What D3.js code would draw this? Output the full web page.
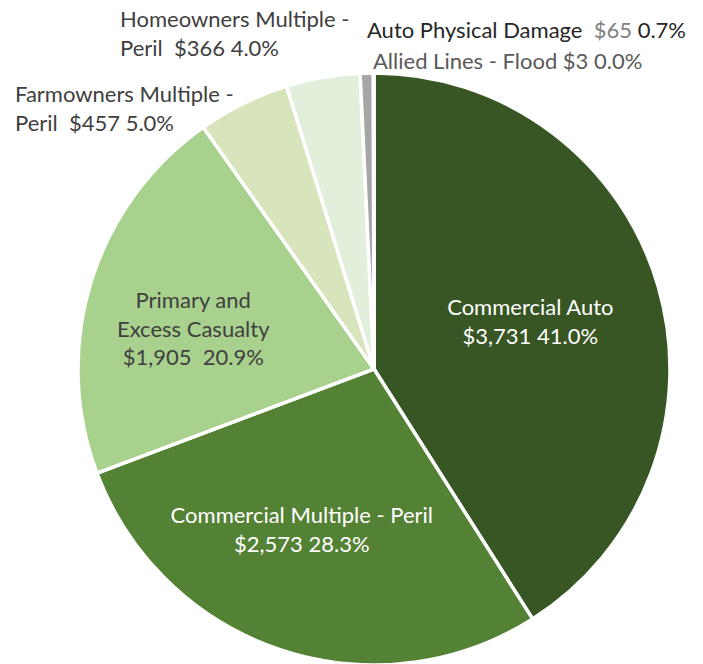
<!DOCTYPE html>
<html>
<head>
<meta charset="utf-8">
<script src="https://cdn.jsdelivr.net/npm/d3@7"></script>
<style>
  body { margin: 0; background: #fff; }
  text { font-family: Lato, "Open Sans", sans-serif; white-space: pre; }
</style>
</head>
<body>
<div id="chart"></div>
<script>
var categories = ["Commercial Auto", "Commercial Multiple - Peril", "Primary and Excess Casualty",
                  "Farmowners Multiple - Peril", "Homeowners Multiple - Peril",
                  "Auto Physical Damage", "Allied Lines - Flood"];
var values = [3731, 2573, 1905, 457, 366, 65, 3];
var percentLabels = ["41.0%", "28.3%", "20.9%", "5.0%", "4.0%", "0.7%", "0.0%"];
var colors = ["#375623", "#548235", "#a9d18e", "#d8e4bc", "#e2efda", "#a6a6a6", "#bfbfbf"];

var width = 703, height = 664;
var cx = 374, cy = 369, radius = 296;
var fontSize = 22;

var svg = d3.select("#chart").append("svg")
            .attr("width", width)
            .attr("height", height);

var pie = d3.pie().sort(null).value(function(d) {return d;});
var arcs = pie(values);
var arc = d3.arc().innerRadius(0).outerRadius(radius);

var plot = svg.append("g")
              .attr("transform", "translate(" + cx + "," + cy + ")");

plot.selectAll("path")
    .data(arcs)
    .enter()
    .append("path")
    .attr("d", arc)
    .attr("fill", function(d, i) {return colors[i];})
    .attr("stroke", "#fff")
    .attr("stroke-width", 3.5)
    .attr("stroke-linejoin", "miter");

function money(v) { return "$" + d3.format(",")(v); }

// labels inside the three big slices (centroid at r * radius, nudged a bit like excel does)
var inside = [
  {i: 0, r: 0.55, dx: 0, dy: -2, lines: [categories[0], money(values[0]) + " " + percentLabels[0]], fill: "#fff"},
  {i: 1, r: 0.62, dx: -14, dy: -13, lines: [categories[1], money(values[1]) + " " + percentLabels[1]], fill: "#fff"},
  {i: 2, r: 0.6, dx: -11, dy: 12, lines: ["Primary and", "Excess Casualty", money(values[2]) + "  " + percentLabels[2]], fill: "#404040"}
];
var lineH = 28.5;
inside.forEach(function(lab) {
  var a = arcs[lab.i];
  var mid = (a.startAngle + a.endAngle) / 2;
  var lx = Math.sin(mid) * radius * lab.r + lab.dx;
  var ly = -Math.cos(mid) * radius * lab.r + lab.dy;
  var t = plot.append("text")
              .attr("text-anchor", "middle")
              .attr("fill", lab.fill)
              .attr("font-size", fontSize);
  var n = lab.lines.length;
  lab.lines.forEach(function(l, k) {
    t.append("tspan")
     .attr("x", lx)
     .attr("y", ly + (k - (n - 1) / 2) * lineH + fontSize * 0.35)
     .text(l);
  });
});

// outside labels (upper left / top)
var outside = [
  {x: 15, y: 102, parts: [[{t: "Farmowners Multiple -", c: "#404040"}], [{t: "Peril  " + money(values[3]) + " " + percentLabels[3], c: "#404040"}]]},
  {x: 120, y: 27, parts: [[{t: "Homeowners Multiple -", c: "#404040"}], [{t: "Peril  " + money(values[4]) + " " + percentLabels[4], c: "#404040"}]]},
  {x: 367, y: 38, parts: [[{t: "Auto Physical Damage  ", c: "#262626"}, {t: money(values[5]), c: "#7f7f7f"}, {t: " " + percentLabels[5], c: "#262626"}]]},
  {x: 373, y: 69, parts: [[{t: categories[6] + " " + money(values[6]) + " " + percentLabels[6], c: "#595959"}]]}
];
outside.forEach(function(lab) {
  var t = svg.append("text")
             .attr("font-size", fontSize);
  lab.parts.forEach(function(line, k) {
    line.forEach(function(p, j) {
      var s = t.append("tspan").attr("fill", p.c).text(p.t);
      if (j == 0) s.attr("x", lab.x).attr("y", lab.y + k * lineH);
    });
  });
});
</script>
</body>
</html>
